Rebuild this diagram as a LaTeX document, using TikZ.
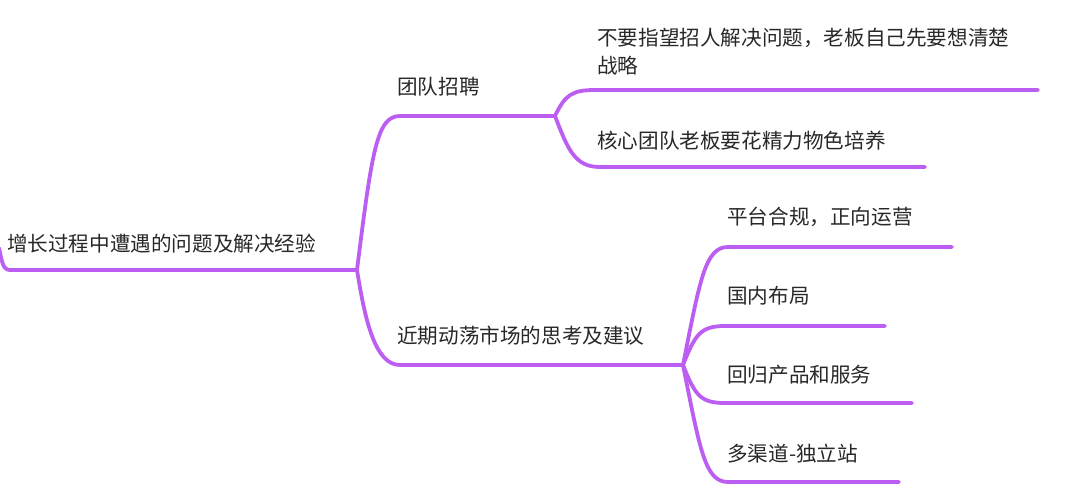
\documentclass[tikz,border=0pt]{standalone}
\usepackage{fontspec}
\setmainfont{Noto Sans CJK SC}
\definecolor{brc}{RGB}{188,94,242}
\definecolor{txc}{RGB}{40,40,40}
\begin{document}
\begin{tikzpicture}[x=1pt,y=-1pt,
  lab/.style={anchor=west,inner sep=0pt,text=txc,font=\fontsize{20.6}{28}\selectfont,text height=0.88em,text depth=0.12em},
  mlab/.style={anchor=north west,inner sep=0pt,text=txc,font=\fontsize{20.6}{28}\selectfont,align=left},
  branch/.style={draw=brc,line width=3.8pt,line cap=round}]
\useasboundingbox (0,0) rectangle (1080,490);
% texts
\node[lab] (root) at (7,248) {增长过程中遭遇的问题及解决经验};
\node[lab] (ta) at (397,91) {团队招聘};
\node[mlab] (ta1) at (597,28) {不要指望招人解决问题，老板自己先要想清楚\\战略};
\node[lab] (ta2) at (597,145) {核心团队老板要花精力物色培养};
\node[lab] (tb) at (397,340) {近期动荡市场的思考及建议};
\node[lab] (tb1) at (727,221) {平台合规，正向运营};
\node[lab] (tb2) at (727,300) {国内布局};
\node[lab] (tb3) at (727,379) {回归产品和服务};
\node[lab] (tb4) at (727,458) {多渠道-独立站};
% underline coordinates
\coordinate (rin) at (-1,248);
\coordinate (r0) at (10,270);
\coordinate (r1) at (357,270);
\coordinate (a0) at (400,116);
\coordinate (a1) at (555,116);
\coordinate (a10) at (595,90);
\coordinate (a11) at (1038,90);
\coordinate (a20) at (600,167);
\coordinate (a21) at (925,167);
\coordinate (b0) at (400,365);
\coordinate (b1) at (683,365);
\coordinate (b10) at (728,247);
\coordinate (b11) at (952,247);
\coordinate (b20) at (725,326);
\coordinate (b21) at (885,326);
\coordinate (b30) at (725,403);
\coordinate (b31) at (912,403);
\coordinate (b40) at (728,482);
\coordinate (b41) at (899,482);
% connectors
\draw[branch] (rin) .. controls (2,262) and (3,270) .. (r0) -- (r1);
\draw[branch] (r1) .. controls (372,150) and (377,116) .. (a0) -- (a1);
\draw[branch] (r1) .. controls (365,320) and (375,365) .. (b0) -- (b1);
\draw[branch] (a1) .. controls (565,95) and (572,90) .. (a10) -- (a11);
\draw[branch] (a1) .. controls (568,150) and (575,167) .. (a20) -- (a21);
\draw[branch] (b1) .. controls (700,280) and (705,247) .. (b10) -- (b11);
\draw[branch] (b1) .. controls (695,335) and (700,326) .. (b20) -- (b21);
\draw[branch] (b1) .. controls (695,395) and (700,403) .. (b30) -- (b31);
\draw[branch] (b1) .. controls (700,450) and (705,482) .. (b40) -- (b41);
\end{tikzpicture}
\end{document}
